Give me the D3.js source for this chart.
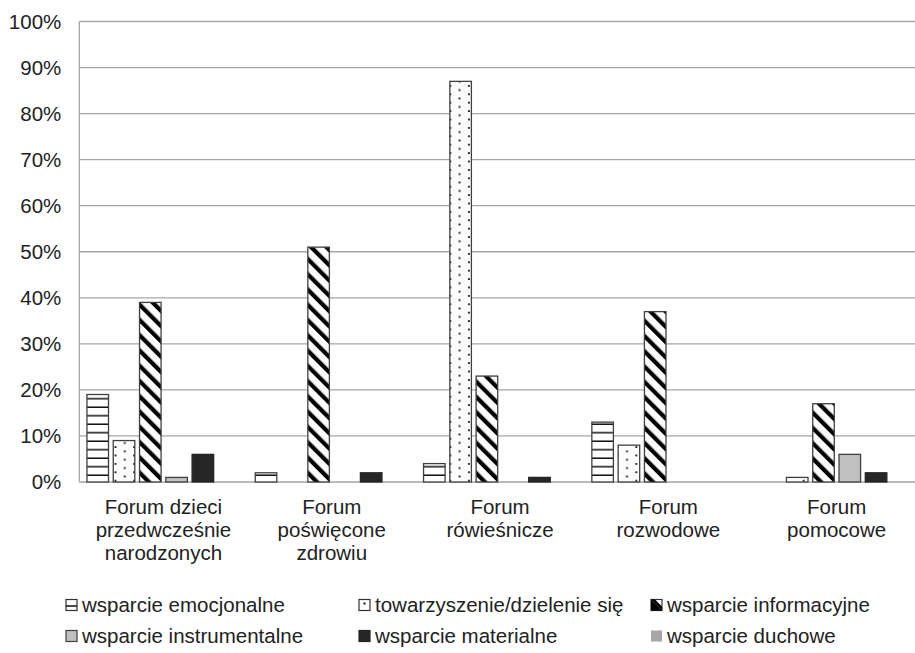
<!DOCTYPE html>
<html><head><meta charset="utf-8">
<script src="https://cdn.jsdelivr.net/npm/d3@7/dist/d3.min.js"></script>
<style>body{margin:0;background:#fff}svg{display:block;font-family:"Liberation Sans",Arial,sans-serif}</style>
</head><body><svg id="c" width="915" height="653"></svg>
<script>
const categories = ["Forum dzieci przedwcześnie narodzonych","Forum poświęcone zdrowiu","Forum rówieśnicze","Forum rozwodowe","Forum pomocowe"];
const categoryLines = [["Forum dzieci","przedwcześnie","narodzonych"],["Forum","poświęcone","zdrowiu"],["Forum","rówieśnicze"],["Forum","rozwodowe"],["Forum","pomocowe"]];
const seriesNames = ["wsparcie emocjonalne","towarzyszenie/dzielenie się","wsparcie informacyjne","wsparcie instrumentalne","wsparcie materialne","wsparcie duchowe"];
const emocjonalne = [19,2,4,13,0];
const towarzyszenie = [9,0,87,8,1];
const informacyjne = [39,51,23,37,17];
const instrumentalne = [1,0,0,0,6];
const materialne = [6,2,1,0,2];
const duchowe = [0,0,0,0,0];
const seriesValues = [emocjonalne,towarzyszenie,informacyjne,instrumentalne,materialne,duchowe];
const yTicks = [0,0.1,0.2,0.3,0.4,0.5,0.6,0.7,0.8,0.9,1.0];

const svg = d3.select("#c");
const defs = svg.append("defs");
// horizontal lines
const pH = defs.append("pattern").attr("id","pH").attr("patternUnits","userSpaceOnUse").attr("width",10).attr("height",8.5);
pH.append("rect").attr("width",10).attr("height",8.5).attr("fill","#fff");
pH.append("rect").attr("y",7).attr("width",10).attr("height",1.5).attr("fill","#111");
// dots
const pD = defs.append("pattern").attr("id","pD").attr("patternUnits","userSpaceOnUse").attr("width",18.6).attr("height",8.4);
pD.append("rect").attr("width",18.6).attr("height",8.4).attr("fill","#fcfcfc");
pD.append("rect").attr("x",3).attr("y",1).attr("width",1.8).attr("height",1.8).attr("fill","#111");
pD.append("rect").attr("x",12.3).attr("y",5.2).attr("width",1.8).attr("height",1.8).attr("fill","#111");
// diagonal stripes
const pS = defs.append("pattern").attr("id","pS").attr("patternUnits","userSpaceOnUse").attr("width",10.8).attr("height",10.8).attr("patternTransform","rotate(-45)");
pS.append("rect").attr("width",10.8).attr("height",10.8).attr("fill","#fcfcfc");
pS.append("rect").attr("width",4.2).attr("height",10.8).attr("fill","#000");
// legend-size patterns
const lH = defs.append("pattern").attr("id","lH").attr("patternUnits","userSpaceOnUse").attr("width",11).attr("height",11).attr("x",66).attr("y",0);
lH.append("rect").attr("width",11).attr("height",11).attr("fill","#fff");

const fills = ["url(#pH)","url(#pD)","url(#pS)","#c0c0c0","#262626","#a6a6a6"];
const strokes = ["#404040","#404040","#404040","#404040","#262626","none"];

const y = d3.scaleLinear().domain([0,1]).range([482,21.5]);
const x0 = d3.scaleBand().domain(categories).range([79.3,920.8]).padding(0);
const x1 = d3.scaleBand().domain(d3.range(seriesNames.length)).range([7.65,7.65+153]).paddingInner(0.18).paddingOuter(0);

// gridlines
const g = svg.append("g");
g.selectAll("line.grid").data(yTicks).join("line")
  .attr("x1",79.3).attr("x2",915).attr("y1",d=>y(d)).attr("y2",d=>y(d))
  .attr("stroke","#a6a6a6").attr("stroke-width",1.3);
g.append("line").attr("x1",79.3).attr("x2",79.3).attr("y1",y(1)).attr("y2",y(0)).attr("stroke","#a6a6a6").attr("stroke-width",1.3);

// axis labels
const ax = svg.append("g").attr("transform","translate(79.3,0)")
  .call(d3.axisLeft(y).tickValues(yTicks).tickFormat(d3.format(".0%")).tickSize(0).tickPadding(18));
ax.select(".domain").remove();
ax.selectAll("text").attr("font-size",20.5).attr("fill","#222").attr("font-family","Liberation Sans, Arial, sans-serif");

// bars
seriesValues.forEach((vals,si)=>{
  svg.append("g").selectAll("rect").data(vals.map((v,i)=>({v,c:categories[i]})).filter(d=>d.v>0)).join("rect")
    .attr("x",d=>x0(d.c)+x1(si)).attr("width",x1.bandwidth())
    .attr("y",d=>y(d.v/100)).attr("height",d=>y(0)-y(d.v/100))
    .attr("fill",fills[si]).attr("stroke",strokes[si]).attr("stroke-width",1.3);
});

// category labels
const cl = svg.append("g");
categories.forEach((c,i)=>{
  const t = cl.append("text").attr("text-anchor","middle").attr("font-size",20.5).attr("fill","#222")
    .attr("x",x0(c)+x0.bandwidth()/2);
  categoryLines[i].forEach((ln,j)=>{
    t.append("tspan").attr("x",x0(c)+x0.bandwidth()/2).attr("y",514+j*23).text(ln);
  });
});

// legend
const legPos = [[66,605],[359,605],[651,605],[66,636],[359,636],[651,636]];
const leg = svg.append("g");
seriesNames.forEach((n,i)=>{
  const [lx,ly] = legPos[i];
  const gg = leg.append("g");
  const s = 11;
  if(i===0){
    gg.append("rect").attr("x",lx).attr("y",ly-s/2).attr("width",s).attr("height",s).attr("fill","#fff").attr("stroke","#333").attr("stroke-width",1.2);
    gg.append("line").attr("x1",lx).attr("x2",lx+s).attr("y1",ly+1).attr("y2",ly+1).attr("stroke","#111").attr("stroke-width",1.5);
  } else if(i===1){
    gg.append("rect").attr("x",lx).attr("y",ly-s/2).attr("width",s).attr("height",s).attr("fill","#fff").attr("stroke","#333").attr("stroke-width",1.2);
    gg.append("rect").attr("x",lx+4.5).attr("y",ly-2.5).attr("width",2).attr("height",2).attr("fill","#111");
  } else if(i===2){
    gg.append("rect").attr("x",lx).attr("y",ly-s/2).attr("width",s).attr("height",s).attr("fill","#fff").attr("stroke","#333").attr("stroke-width",1.2);
    gg.append("path").attr("d",`M${lx},${ly-s/2} L${lx+s},${ly+s/2} L${lx},${ly+s/2} Z`).attr("fill","#000");
    gg.append("path").attr("d",`M${lx},${ly-s/2} L${lx+4},${ly-s/2} L${lx+s},${ly+s/2-4} L${lx+s},${ly+s/2} Z`).attr("fill","#000");
  } else {
    gg.append("rect").attr("x",lx).attr("y",ly-s/2).attr("width",s).attr("height",s).attr("fill",fills[i]).attr("stroke",strokes[i]).attr("stroke-width",1.2);
  }
  gg.append("text").attr("x",lx+16).attr("y",ly).attr("dy","0.35em").attr("font-size",20.5).attr("fill","#222").text(n);
});
</script></body></html>
